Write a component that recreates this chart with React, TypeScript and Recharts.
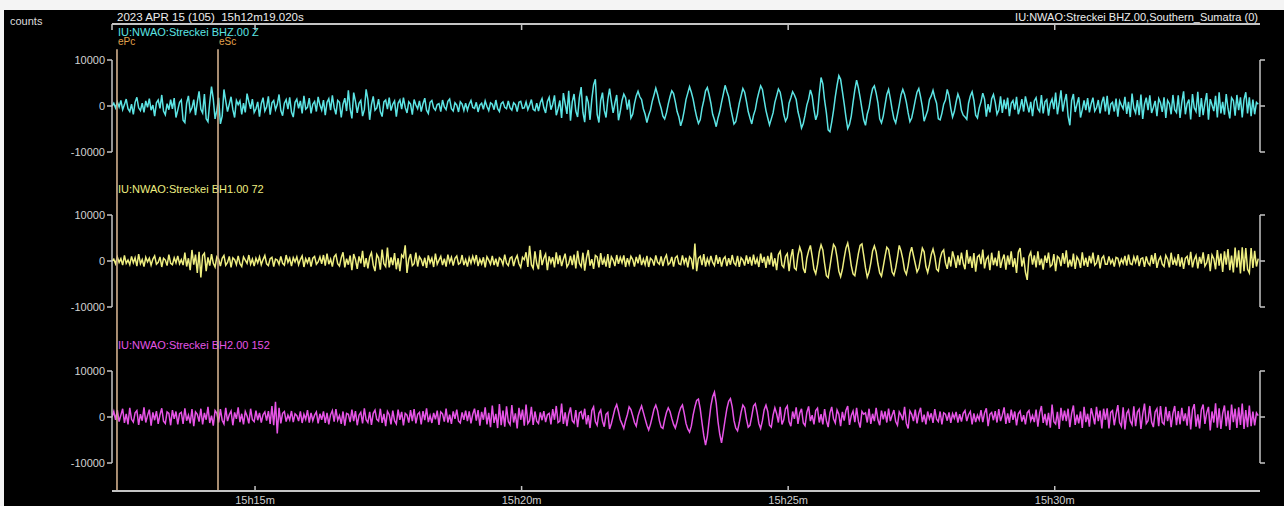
import React from 'react';
import { LineChart, Line, XAxis, YAxis, ReferenceLine } from 'recharts';

// sample spacing in seconds after 15h12m19.020s
const SAMPLE_STEP = 2;
const T_END = 1292;
const UNIT = 100; // the trace arrays are in hundreds of counts

// IU:NWAO BHZ.00
const bhz = [
  0, 6, -4, 9, -2, 12, -8, 3, 15, -6, -12, 4, -18, 8, 19, -4, -10, 6, -14, 11, -3, 16, -9, 2, -22, 7, 13, -5, 24, -11, -19, 5, -8, 14, -6, 17, -25, -9, 8, 13,
  -31, -36, 6, 22, -12, -4, 14, -20, 9, 32, -7, -15, 26, -28, -34, 8, 42, 15, -28, -9, 18, -39, -22, 36, 11, -12, 4, 20, -8, -25, 12, 3, 11, -18, 6, -14, 27, 9, -6, 15,
  -14, -6, 9, -23, 5, 18, -11, -2, 21, -19, 7, 12, -8, 3, 25, -10, -21, 6, 14, -7, 19, -13, -24, 8, 15, -5, 11, -16, 22, -7, -3, 17, -16, 4, 10, -12, 20, 2, -9, 13,
  -20, 8, 16, -9, 23, -3, -18, 12, 8, -25, 4, 17, -11, 34, -6, -27, 29, 10, -15, 6, 12, -22, -8, 36, 14, -30, 3, 21, -9, -4, 15, -12, -23, 9, 13, -7, 18, -10, 4, 11,
  -23, 6, 13, -7, 18, -3, -15, 9, 4, -19, 14, 2, -6, 11, -12, 5, 17, -9, -16, 8, 12, -4, -9, 3, 5, -12, 13, -2, -8, 10, 15, -6, -11, 7, 2, -13, 9, 4, -10, 6,
  -9, 4, 12, -3, -5, 8, -13, 2, 6, -7, 11, -1, -10, 7, 4, -8, 13, -6, -12, 5, 9, -3, -6, 11, -4, -9, 7, 3, -12, 8, 10, -5, -4, 9, -8, 2, 14, -7, -10, 6,
  -11, 7, 16, -4, -15, 10, 19, -8, 4, 23, -20, -6, 12, -26, 28, 5, -17, 33, -32, 9, 26, -11, -24, 18, 41, -14, -35, 22, 8, -30, 15, 46, 58, -18, -36, 12, 29, -9, -25, 14,
  38, 10, -15, 6, 24, -31, -12, 12, 26, 18, -8, 14, -26, -18, 5, 22, 32, 20, 14, -6, -18, -36, -20, -9, 10, 24, 39, 25, 8, -5, -22, -28, -15, 4, 20, 33, 27, 9, -12, -24,
  -43, -30, -10, 14, 28, 42, 30, 15, -6, -24, -38, -30, -5, 12, 33, 40, 25, 6, -18, -30, -45, -26, -12, 8, 26, 45, 32, 20, -2, -21, -39, -34, -15, 6, 22, 38, 30, 10, -12, -26,
  -39, -20, -8, 14, 30, 44, 36, 13, -10, -26, -41, -28, -15, 8, 22, 37, 30, 9, -18, -33, -25, 6, 18, 31, 24, 14, -12, -28, -48, -38, -20, 2, 15, 35, 22, -8, -30, -18, 26, 62,
  48, 12, -15, -52, -56, -35, -10, 20, 45, 66, 58, 32, 5, -24, -49, -40, -22, 8, 35, 56, 40, 18, -6, -30, -42, -18, -4, 20, 38, 44, 28, 7, -28, -37, -22, 2, 25, 36, 16, -8,
  -28, -37, -18, 2, 24, 36, 25, 8, -15, -34, -26, -8, 12, 30, 38, 20, -2, -33, -21, -10, 14, 22, 34, 18, 6, -28, -30, -16, 4, 13, 36, 22, -5, -24, -12, 9, 26, 15, -10, -20,
  -24, -29, 6, 22, 31, 12, -20, -26, -4, 9, 28, 15, -23, 4, -14, 16, 25, 8, -18, -9, 21, -15, 14, -7, 18, -22, 6, 12, -8, 20, -18, -4, 15, -12, 21, 3, -14, 9, -22, 11,
  18, -6, -12, 24, -16, 9, 14, -21, 5, 15, -7, 29, -18, 6, 34, -12, 10, 26, -22, -42, 12, 26, -13, 4, 19, -25, -8, 12, -9, 17, -14, 5, 18, -11, -4, 13, -16, 8, 20, -12,
  22, -19, 4, 8, -12, 16, -23, 11, 2, -6, 20, -17, 9, -24, 27, -5, -15, 13, -20, 25, -28, 4, 18, -9, 23, -15, -3, 11, -22, 16, 7, -13, 19, -26, 12, 5, -18, 24, -8, -14,
  23, -26, 8, 32, -18, 5, 14, -29, 26, -4, -12, 31, -24, 17, -20, 6, 28, -30, 15, 2, -11, 22, -25, 30, -16, 9, -19, 26, -6, -27, 18, 12, -21, 24, -9, 19, -25, 14, 30, -16,
  19, -22, 14, -18, 8, 4,
];

// IU:NWAO BH1.00
const bh1 = [
  0, 4, -6, 9, -3, 5, -9, 12, -5, 2, -8, 10, -4, 7, -11, 15, -6, 3, -12, 8, -2, 6, -9, 4, 11, -7, -3, 9, -13, 6, 2, -10, 14, -5, -8, 7, -4, 11, -6, 3,
  -9, 18, -12, 6, -20, 24, -8, 14, -26, 20, -36, 12, 17, -22, 8, -10, 15, -5, -13, 9, 4, -11, 6, 12, -9, -3, 10, -14, 7, 3, -8, 11, -6, -12, 9, 2, -5, 13, -7, 4,
  -11, 6, -4, 9, -8, 3, 12, -6, -10, 5, 8, -12, 4, 2, -7, 10, -5, -9, 13, -3, 6, -11, 7, -2, 9, -8, 3, 11, -13, 5, -4, 8, -12, 6, 10, -7, -2, 9, -6, 13,
  -10, 16, -7, 4, -12, 9, 14, -6, -11, 7, 19, -14, 5, -8, 12, -20, 15, 3, -17, 10, -5, 22, -13, 6, -16, 9, 18, -9, -22, 14, 7, -19, 25, -6, -12, 29, -14, 8, -9, 17,
  -18, 6, -22, 13, 8, 34, -26, 4, 15, -10, -6, 18, -12, 9, 3, -11, 7, -15, 12, -4, 6, -13, 16, -7, 2, 10, -9, 5, -12, 14, -3, 8, -10, 6, 11, -7, -4, 13, -9, 3,
  -12, 7, -5, 10, -3, 13, -11, 4, -6, 8, -14, 9, 2, -7, 11, -9, 5, -12, 7, 3, -8, 14, -5, -10, 6, 9, -11, 4, 12, -6, -14, 8, 3, 19, -13, 33, -8, -16, 21, -6,
  -18, 24, -9, 6, 15, -20, 10, -4, 8, -14, 19, -7, 12, -11, 4, 16, -13, -6, 11, -9, 14, -16, 22, -5, -12, 18, -21, 7, 24, -10, 4, -17, 12, 9, -14, 17, -8, 5, -12, 15,
  -15, 9, 2, -11, 13, -6, 8, -4, 12, -13, 6, -7, 10, 3, -12, 9, -5, 14, -9, 4, -8, 11, -13, 6, 2, -10, 12, -3, -7, 10, -11, 5, 13, -8, -4, 9, -12, 7, 11, -6,
  -8, 12, -5, 7, -14, 9, 4, -18, 38, -22, 6, 10, -9, 15, -12, 5, -7, 11, -3, -10, 13, -6, 8, -12, 4, 9, -11, 6, -8, 13, -4, -9, 11, -13, 7, 2, -10, 12, -6, 9,
  -10, 14, -7, 5, -13, 16, -4, 9, -15, 11, -8, 18, -12, 6, -20, 14, 21, -9, -14, 10, 16, -22, 8, 26, -15, -19, 12, 30, 18, -16, -26, 6, 22, 34, 10, -18, -28, -8, 20, 35,
  24, -6, -32, -36, -12, 14, 36, 30, 8, -22, -34, -18, 6, 28, 39, 18, -10, -28, -32, -8, 16, 34, 37, 12, -15, -35, -24, -4, 22, 33, 20, -6, -26, -33, -12, 10, 30, 25, 2, -24,
  -31, -15, 8, 34, 22, 4, -20, -29, -10, 16, 30, 12, -6, -24, -16, 6, 28, 20, -12, -25, -8, 14, 26, 10, -18, -22, 5, 19, 24, -4, -17, 9, -12, 21, 6, -15, 12, -9, 18, -5,
  -18, 24, -6, 10, -15, 17, -23, 9, 13, -7, 25, -16, 4, 10, -20, 18, -9, 7, -11, 22, -15, 3, 14, -19, 12, -8, 21, -13, 6, -26, 19, 28, -12, 8, -24, -41, 10, 19, -8, 12,
  -14, 21, -9, 5, -19, 12, -4, 18, -12, -8, 15, -22, 10, 6, -11, 17, -6, 23, -14, 3, -12, 16, -17, 9, 2, -15, 19, -10, 7, -13, 11, -5, 18, -9, -4, 13, -16, 6, 11, -7,
  -7, 10, -5, 3, -12, 8, 6, -9, 4, -5, 11, -10, 14, -6, -8, 9, -3, 12, -11, 5, 7, -13, 10, -4, -9, 13, -6, 17, -15, 2, 9, -7, -12, 12, 4, -14, 18, -8, 5, -10,
  15, -12, 8, -17, 6, 10, -9, 20, -14, 3, 12, -16, 9, -6, 19, -11, -4, 15, -22, 13, 5, -18, 24, -10, 16, -24, 21, -8, 26, -20, 12, -25, 29, -14, 23, -27, 30, -22, 28, -18,
  -26, 28, -15, 22, -12, 5,
];

// IU:NWAO BH2.00
const bh2 = [
  0, 12, -6, 15, -10, 4, 18, -13, 7, -16, 20, -5, -11, 9, 14, -17, 6, -8, 21, -12, 3, 16, -19, 10, -7, 13, -15, 5, 19, -9, -14, 11, 8, -18, 15, -4, 12, -16, 7, 10,
  -15, 19, -8, 4, -14, 17, -20, 11, 6, -10, 18, -16, 9, -6, 22, -13, 3, -19, 14, 8, -12, 17, -7, -15, 20, -9, 5, 13, -18, 10, -4, 21, -11, 7, -16, 12, 2, -14, 18, -6,
  -10, 14, -7, 9, -12, 5, 11, -8, 13, -15, 24, -18, 33, -36, 20, -14, 8, 12, -10, 4, -6, 13, -11, 7, 3, -9, 12, -13, 6, -5, 15, -12, 9, -8, 4, 11, -14, 7, -6, 12,
  -13, 9, -16, 5, 14, -10, 17, -7, 3, -15, 12, -19, 8, 6, -11, 16, -9, 13, -18, 4, 10, -14, 19, -6, -12, 11, -17, 8, 15, -5, -9, 18, -13, 7, -20, 12, 5, -16, 14, -8,
  -15, 16, -6, 11, -18, 8, 4, -12, 15, -9, 17, -14, 6, 10, -16, 13, -7, 19, -11, 3, -13, 9, -5, 14, -17, 11, 7, -10, 18, -12, 5, -15, 12, -4, 16, -9, -13, 10, -6, 14,
  -9, 12, -14, 6, 18, -8, 15, -19, 11, -6, 21, -16, 9, -22, 25, -13, 7, -24, 28, -18, 14, -21, 23, -10, -17, 26, -12, 8, -25, 20, -6, 16, -19, 27, -14, -8, 22, -17, 12, -9,
  -14, 10, -7, 13, -11, 5, 8, -16, 17, -6, 24, -12, -9, 29, -15, 10, -20, 6, 21, -8, -13, 15, -22, 9, 12, -5, 18, -16, 4, -24, 14, 22, -10, -18, 8, 15, -9, -21, 6, 10,
  -26, -14, 2, 18, 27, 12, -6, -15, -25, -8, 5, 22, 16, 3, -12, -20, 2, 14, 24, 10, -4, -18, -28, -16, 0, 17, 26, 14, -8, -22, -25, -6, 10, 20, 12, -3, -16, -24, -10, 8,
  20, 26, 8, -14, -26, -33, -20, 4, 22, 36, 39, 18, -12, -40, -61, -42, -8, 24, 44, 54, 30, -10, -38, -56, -32, -6, 18, 34, 40, 22, -8, -24, -30, -12, 10, 26, 20, -4, -22, -18,
  2, 24, 29, 10, -14, -25, -8, 16, 26, 12, -18, -22, 4, 20, 7, -12, 22, -16, -6, 18, 24, -10, -20, 12, -4, 21, -15, 8, 18, -13, -19, 10, 23, -9, 4, -16, 14, 19, -12, 6,
  -16, 17, -8, -22, 9, 22, -4, -13, 15, 6, -20, 11, -8, 14, 24, -17, 3, 13, -11, 20, -9, -23, 12, 6, 9, -12, 18, -15, 7, -9, 20, -6, -18, 14, -5, 12, -12, 18, -9, 4,
  15, -10, -18, 11, 4, -7, 22, -14, -25, 13, 6, -9, 16, -14, 8, 20, -11, 5, -16, 12, -4, 8, -13, 17, -5, -10, 12, -16, 9, 6, -8, 10, -13, 7, -3, 11, -12, 6, -10, 8,
  14, -9, 5, 12, -16, 8, -11, 4, -6, 15, -11, 9, 19, -20, 6, 10, -7, 13, -12, 17, -9, 4, 21, -15, 8, -13, 16, -6, 12, -18, 7, 13, -10, 4, -16, 9, 14, -8, 3, -11,
  16, -21, 9, 24, -13, 7, -18, 9, -23, 27, -10, -15, 11, -26, 20, -8, 14, -9, 18, -22, 8, 25, -17, 5, -14, 12, -24, 22, -11, 7, -21, 19, 3, -16, 22, -9, 14, -25, 18, -6,
  19, -25, 10, 14, -18, 6, 26, -12, -20, 21, -27, 8, 15, -9, -17, 23, -20, 11, 17, -26, 6, 29, -14, -8, 24, -11, -22, 11, 18, -20, 24, -12, -16, 22, -9, 13, -22, 8, 24, -18,
  13, -16, 20, -9, 8, -19, 23, -27, 16, 28, -21, 6, -25, 16, 27, -15, 9, 22, -29, 12, -12, 30, -23, 19, -26, 8, 25, -20, 14, -28, 27, -11, 18, -24, 21, -17, 29, -26, 15, -22,
  25, -20, 12, -18, 9, 3,
];

const timeTicks = [160.98, 460.98, 760.98, 1060.98];
const timeTickLabels = ['15h15m', '15h20m', '15h25m', '15h30m'];
const ampTicks = [-10000, 0, 10000];
const pickNames = ['ePc', 'eSc'];
const pickTimes = [5.6, 119.3];

const rows = bhz.map((v, i) => ({ t: i * SAMPLE_STEP, z: v * UNIT, n: bh1[i] * UNIT, e: bh2[i] * UNIT }));

const W = 1284;
const FONT = '"Liberation Sans", Arial, sans-serif';
const AXIS = '#c4c4c4';
const PICK_TOP = 0.946; // fraction of plot height where the pick lines start

const channels = [
  { key: 'z', label: 'IU:NWAO:Streckei BHZ.00 Z', color: '#5ce4e4', top: 50, labelTop: 26 },
  { key: 'n', label: 'IU:NWAO:Streckei BH1.00 72', color: '#eeee80', top: 205, labelTop: 183 },
  { key: 'e', label: 'IU:NWAO:Streckei BH2.00 152', color: '#e654e6', top: 361, labelTop: 339 },
];

const NoLabel = () => <g />;

const Trace = ({ dataKey, color }: { dataKey: string; color: string }) => (
  <LineChart width={W} height={112} data={rows} margin={{ top: 10, right: 4, bottom: 10, left: 0 }}>
    <XAxis dataKey="t" type="number" domain={[0, T_END]} hide allowDataOverflow />
    <YAxis
      yAxisId="l"
      width={112}
      domain={[-10000, 10000]}
      ticks={ampTicks}
      interval={0}
      allowDataOverflow
      tickSize={5}
      axisLine={{ stroke: AXIS, strokeWidth: 1.5 }}
      tickLine={{ stroke: AXIS, strokeWidth: 1.5 }}
      tick={{ fill: '#d2d2d2', fontSize: 11, fontFamily: FONT }}
    />
    <YAxis
      yAxisId="r"
      orientation="right"
      width={20}
      domain={[-10000, 10000]}
      ticks={ampTicks}
      interval={0}
      allowDataOverflow
      tickSize={5}
      tick={NoLabel}
      axisLine={{ stroke: AXIS, strokeWidth: 1.5 }}
      tickLine={{ stroke: AXIS, strokeWidth: 1.5 }}
    />
    <Line
      yAxisId="l"
      type="linear"
      dataKey={dataKey}
      stroke={color}
      strokeWidth={1.5}
      dot={false}
      isAnimationActive={false}
    />
  </LineChart>
);

const TopTick = (props: any) => {
  const { x, y } = props;
  return <line x1={x} y1={y} x2={x} y2={y + 6} stroke={AXIS} strokeWidth={1.5} />;
};

const BottomTick = (props: any) => {
  const { x, y, payload } = props;
  const idx = timeTicks.indexOf(payload.value);
  return (
    <g>
      <line x1={x} y1={y} x2={x} y2={y - 5} stroke={AXIS} strokeWidth={1.5} />
      <text x={x} y={y + 13} textAnchor="middle" fill="#cfcfcf" fontSize={11} fontFamily={FONT}>
        {timeTickLabels[idx]}
      </text>
    </g>
  );
};

const PickLabel = (name: string) => (props: any) => {
  const vb = props.viewBox || {};
  return (
    <text x={vb.x + 1} y={vb.y - 4} fill="#e0a24c" fontSize={10} fontFamily={FONT}>
      {name}
    </text>
  );
};

export default function App() {
  return (
    <div
      style={{
        position: 'absolute',
        left: 0,
        top: 0,
        width: W,
        height: 506,
        background: '#f4f4f4',
        overflow: 'hidden',
        fontFamily: FONT,
      }}
    >
      <div style={{ position: 'absolute', left: 4, top: 10, right: 0, bottom: 0, background: '#000' }} />
      <div style={{ position: 'absolute', left: 10, top: 15, fontSize: 11, color: '#dcdcdc' }}>counts</div>
      <div style={{ position: 'absolute', left: 117, top: 11, fontSize: 11.5, color: '#ececec', whiteSpace: 'pre' }}>
        2023 APR 15 (105)  15h12m19.020s
      </div>
      <div style={{ position: 'absolute', right: 26, top: 11, fontSize: 11, color: '#ececec', whiteSpace: 'pre' }}>
        IU:NWAO:Streckei BHZ.00,Southern_Sumatra (0)
      </div>

      {channels.map((c) => (
        <React.Fragment key={c.key}>
          <div style={{ position: 'absolute', left: 0, top: c.top }}>
            <Trace dataKey={c.key} color={c.color} />
          </div>
          <div
            style={{ position: 'absolute', left: 118, top: c.labelTop, fontSize: 11, color: c.color, whiteSpace: 'pre' }}
          >
            {c.label}
          </div>
        </React.Fragment>
      ))}

      <div style={{ position: 'absolute', left: 0, top: 0 }}>
        <LineChart width={W} height={506} data={rows} margin={{ top: 0, right: 24, bottom: 0, left: 112 }}>
          <XAxis
            xAxisId="top"
            orientation="top"
            dataKey="t"
            type="number"
            domain={[0, T_END]}
            allowDataOverflow
            ticks={[0, ...timeTicks]}
            interval={0}
            height={24}
            tickSize={0}
            tickMargin={0}
            tickLine={false}
            axisLine={{ stroke: AXIS, strokeWidth: 2 }}
            tick={TopTick}
          />
          <XAxis
            xAxisId="bottom"
            orientation="bottom"
            dataKey="t"
            type="number"
            domain={[0, T_END]}
            allowDataOverflow
            ticks={timeTicks}
            interval={0}
            height={15}
            tickSize={0}
            tickMargin={0}
            tickLine={false}
            axisLine={{ stroke: AXIS, strokeWidth: 2 }}
            tick={BottomTick}
          />
          <YAxis yAxisId="p" type="number" hide domain={[0, 1]} allowDataOverflow />
          {pickTimes.map((t, i) => (
            <ReferenceLine
              key={pickNames[i]}
              xAxisId="bottom"
              yAxisId="p"
              ifOverflow="visible"
              segment={[
                { x: t, y: 0 },
                { x: t, y: PICK_TOP },
              ]}
              stroke="#d2b08e"
              strokeWidth={1.6}
              label={PickLabel(pickNames[i])}
            />
          ))}
        </LineChart>
      </div>
    </div>
  );
}
